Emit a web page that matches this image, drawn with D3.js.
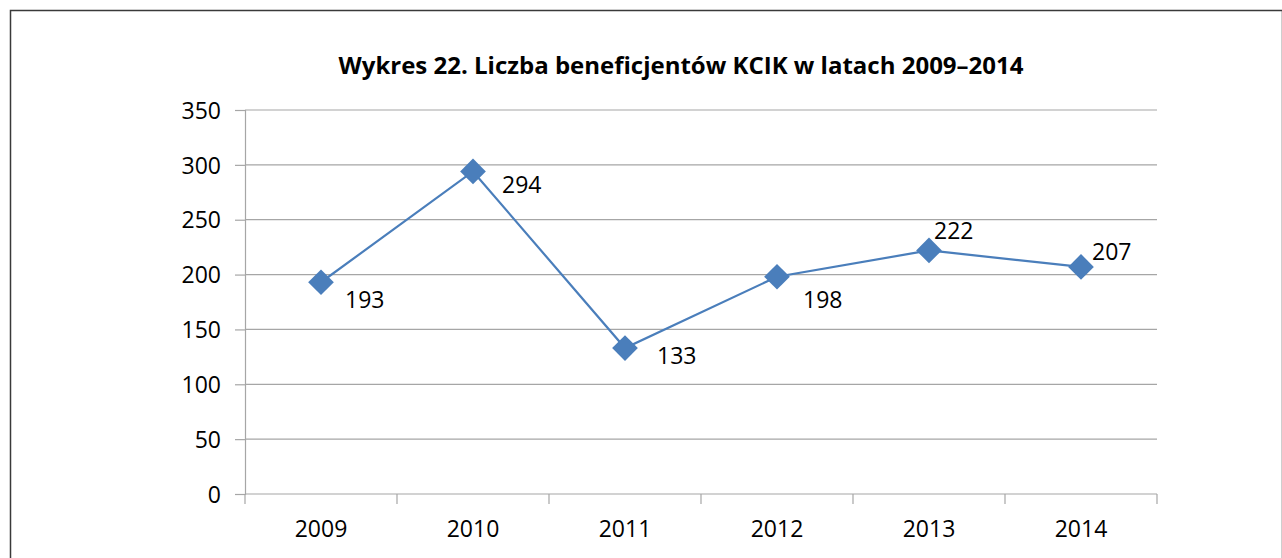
<!DOCTYPE html>
<html>
<head>
<meta charset="utf-8">
<script src="https://cdn.jsdelivr.net/npm/d3@7"></script>
<style>
    body { margin: 0; background: #fff; }
    text { font-family: "Open Sans", "Noto Sans", sans-serif; fill: #000; }
</style>
</head>
<body>
<div id="chart"></div>
<script>
// chart data
let title = "Wykres 22. Liczba beneficjentów KCIK w latach 2009–2014";
let years = ["2009", "2010", "2011", "2012", "2013", "2014"];
let beneficiaries = [193, 294, 133, 198, 222, 207];
let yTicks = [0, 50, 100, 150, 200, 250, 300, 350];

// where each data label sits relative to its marker
let labelOffsets = {
    "2009": [24, 26], "2010": [29, 22], "2011": [32, 16],
    "2012": [26, 31], "2013": [5, -11], "2014": [11, -7]
};

let width = 1282, height = 558;
let margin = {top: 110, right: 125, bottom: 64, left: 245};

let svg = d3.select("#chart").append("svg")
    .attr("width", width)
    .attr("height", height);

// outer frame
svg.append("rect")
    .attr("x", 10.5)
    .attr("y", 10.5)
    .attr("width", 1272)
    .attr("height", 600)
    .attr("fill", "none")
    .attr("stroke", "#3a3a3a")
    .attr("stroke-width", 1.5);

// title
svg.append("text")
    .attr("x", 681)
    .attr("y", 74)
    .attr("text-anchor", "middle")
    .style("font-size", "24px")
    .style("font-weight", "bold")
    .text(title);

let x = d3.scaleBand()
    .domain(years)
    .range([margin.left, width - margin.right]);

let y = d3.scaleLinear()
    .domain([0, 350])
    .range([height - margin.bottom, margin.top]);

// y axis with outward ticks
let yAxis = svg.append("g")
    .attr("transform", `translate(${margin.left},0)`)
    .call(d3.axisLeft(y).tickValues(yTicks).tickSize(10).tickPadding(14));

yAxis.select(".domain").attr("stroke", "#a6a6a6").attr("stroke-width", 1.2);
yAxis.selectAll(".tick line").attr("stroke", "#a6a6a6").attr("stroke-width", 1.2);
yAxis.selectAll(".tick text").style("font-size", "23px").attr("fill", "#000").attr("dy", "0.36em");

// horizontal gridlines
svg.append("g")
    .selectAll("line")
    .data(yTicks)
    .enter()
    .append("line")
    .attr("x1", margin.left)
    .attr("x2", width - margin.right)
    .attr("y1", d => y(d))
    .attr("y2", d => y(d))
    .attr("stroke", "#a6a6a6")
    .attr("stroke-width", 1.2);

// x axis: ticks between categories
let boundaries = years.map(d => x(d)).concat([x.range()[1]]);
svg.append("g")
    .selectAll("line")
    .data(boundaries)
    .enter()
    .append("line")
    .attr("x1", d => d)
    .attr("x2", d => d)
    .attr("y1", y(0))
    .attr("y2", y(0) + 10)
    .attr("stroke", "#a6a6a6")
    .attr("stroke-width", 1.2);

svg.append("g")
    .selectAll("text")
    .data(years)
    .enter()
    .append("text")
    .attr("x", d => x(d) + x.bandwidth() / 2)
    .attr("y", y(0) + 43)
    .attr("text-anchor", "middle")
    .style("font-size", "23px")
    .text(d => d);

// line + markers
let points = years.map((d, i) => ({year: d, value: beneficiaries[i]}));

let line = d3.line()
    .x(d => x(d.year) + x.bandwidth() / 2)
    .y(d => y(d.value));

svg.append("path")
    .datum(points)
    .attr("d", line)
    .attr("fill", "none")
    .attr("stroke", "#4a7ebb")
    .attr("stroke-width", 2.2);

svg.append("g")
    .selectAll("path")
    .data(points)
    .enter()
    .append("path")
    .attr("d", d3.symbol().type(d3.symbolSquare).size(330))
    .attr("transform", d => `translate(${x(d.year) + x.bandwidth() / 2},${y(d.value)}) rotate(45)`)
    .attr("fill", "#4a7ebb");

// data labels
svg.append("g")
    .selectAll("text")
    .data(points)
    .enter()
    .append("text")
    .attr("x", d => x(d.year) + x.bandwidth() / 2 + labelOffsets[d.year][0])
    .attr("y", d => y(d.value) + labelOffsets[d.year][1])
    .style("font-size", "23px")
    .text(d => d.value);
</script>
</body>
</html>
